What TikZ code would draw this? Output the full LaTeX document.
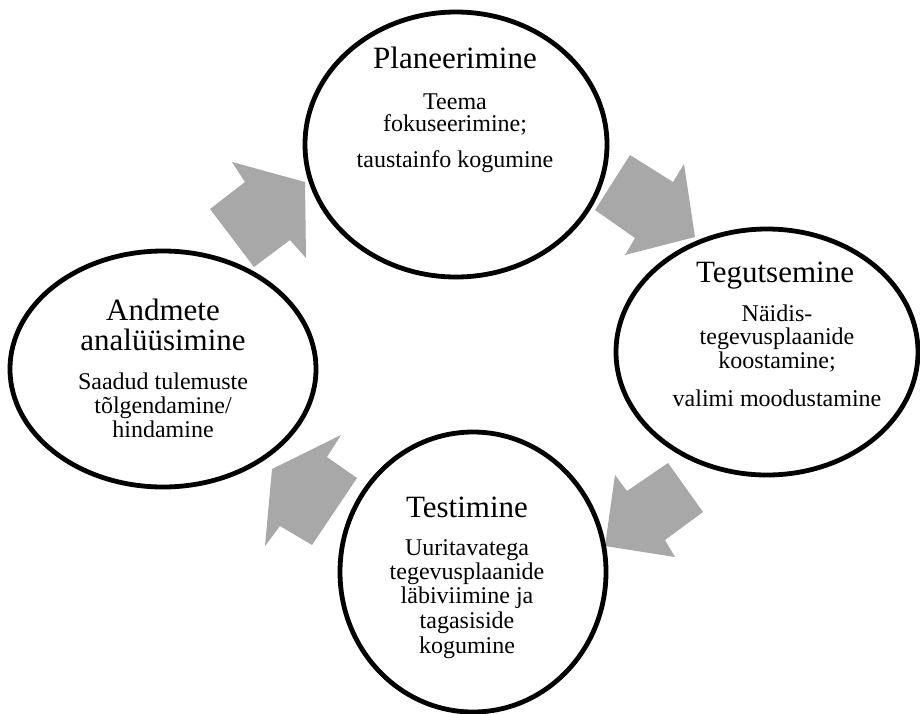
\documentclass[tikz,border=0pt]{standalone}
\usepackage{fontspec}
\setmainfont{Liberation Serif}
\usetikzlibrary{shapes.geometric}
\definecolor{arrowgray}{RGB}{168,168,168}
\tikzset{
  phase/.style={ellipse, draw=black, line width=4.8pt, fill=white, inner sep=0pt},
  ttl/.style={anchor=base, inner sep=0pt, font=\fontsize{31}{31}\selectfont},
  bdy/.style={anchor=base, inner sep=0pt, font=\fontsize{24}{24}\selectfont},
  blockarrow/.style={fill=arrowgray, draw=none}
}
\begin{document}
\begin{tikzpicture}[x=1pt,y=-1pt]
\useasboundingbox (0,0) rectangle (920,713);
% arrows
\fill[blockarrow] (232,162) -- (245,182) -- (210,209) -- (254,267) -- (290,240) -- (306,258) -- (305,182) -- cycle;
\fill[blockarrow] (630,155) -- (673,182) -- (684,164) -- (695,237) -- (625,255) -- (635,238) -- (595,210) -- cycle;
\fill[blockarrow] (615,475) -- (627,491) -- (668,463) -- (703,512) -- (665,540) -- (675,557) -- (605,546) -- cycle;
\fill[blockarrow] (341,435) -- (327,457) -- (357,478) -- (312,545) -- (280,526) -- (265,546) -- (272,469) -- cycle;
% ellipses
\node[phase, minimum width=302pt, minimum height=265pt] (plan) at (456,144.5) {};
\node[phase, minimum width=302pt, minimum height=246pt] (act) at (767,352) {};
\node[phase, minimum width=306pt, minimum height=236pt] (anal) at (163,369) {};
\node[phase, minimum width=266pt, minimum height=280pt] (test) at (473,572) {};
% Planeerimine
\node[ttl] (planT) at (455,68) {Planeerimine};
\node[bdy] (planB1) at (455,109) {Teema};
\node[bdy] (planB2) at (455,131) {fokuseerimine;};
\node[bdy] (planB3) at (455,167) {taustainfo kogumine};
% Tegutsemine
\node[ttl] (actT) at (775,282) {Tegutsemine};
\node[bdy] (actB1) at (777,321) {Näidis-};
\node[bdy] (actB2) at (777,344) {tegevusplaanide};
\node[bdy] (actB3) at (777,368) {koostamine;};
\node[bdy] (actB4) at (777,406) {valimi moodustamine};
% Andmete analüüsimine
\node[ttl] (analT1) at (163,320) {Andmete};
\node[ttl] (analT2) at (163,350) {analüüsimine};
\node[bdy] (analB1) at (163,389) {Saadud tulemuste};
\node[bdy] (analB2) at (163,413) {tõlgendamine/};
\node[bdy] (analB3) at (163,437) {hindamine};
% Testimine
\node[ttl] (testT) at (467,517) {Testimine};
\node[bdy] (testB1) at (467,555) {Uuritavatega};
\node[bdy] (testB2) at (467,579) {tegevusplaanide};
\node[bdy] (testB3) at (467,603) {läbiviimine ja};
\node[bdy] (testB4) at (467,628) {tagasiside};
\node[bdy] (testB5) at (467,653) {kogumine};
\end{tikzpicture}
\end{document}
